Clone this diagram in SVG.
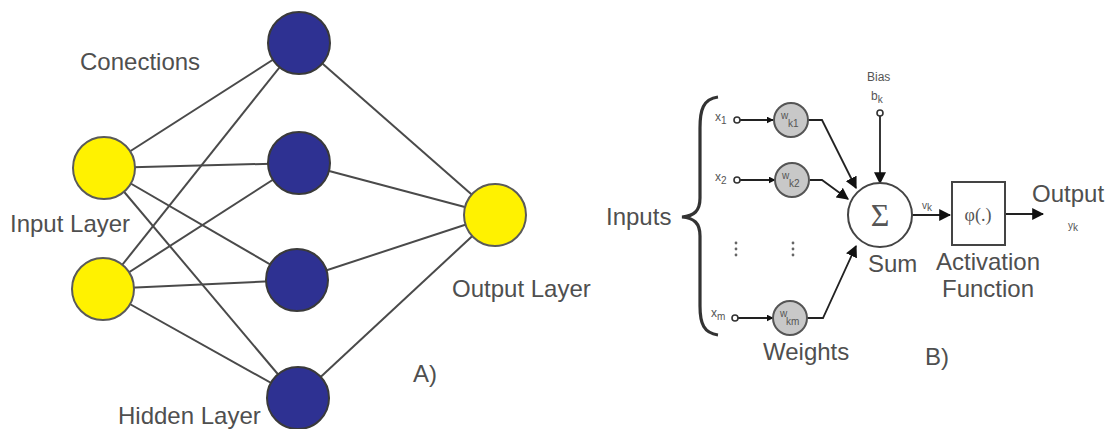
<svg xmlns="http://www.w3.org/2000/svg" width="1107" height="429" viewBox="0 0 1107 429">
<style>
.lbl{font-family:"Liberation Sans",Arial,sans-serif;font-size:24px;fill:#4f4f4f}
.sm{font-family:"Liberation Sans",Arial,sans-serif;font-size:12px;fill:#555}
.sub{font-family:"Liberation Sans",Arial,sans-serif;font-size:10px;fill:#555}
.con{stroke:#4a4a4a;stroke-width:2;fill:none}
.hid{fill:#2e3192;stroke:#3a3a3a;stroke-width:2}
.yel{fill:#fff200;stroke:#5a5a5a;stroke-width:2}
.wt{fill:#c8c8c8;stroke:#555;stroke-width:2}
.pin{fill:#fff;stroke:#333;stroke-width:1.6}
.ar{stroke:#222;stroke-width:1.8;fill:none}
</style>
<defs>
<marker id="ah" viewBox="0 0 10 10" refX="9" refY="5" markerWidth="7" markerHeight="7" markerUnits="userSpaceOnUse" orient="auto">
<path d="M0,0 L10,5 L0,10 z" fill="#111"/>
</marker>
<marker id="ahb" viewBox="0 0 10 10" refX="9" refY="5" markerWidth="12" markerHeight="12" markerUnits="userSpaceOnUse" orient="auto">
<path d="M0,0 L10,5 L0,10 z" fill="#111"/>
</marker>
</defs>
<rect width="1107" height="429" fill="#fff"/>
<g id="connectors">
<line class="con" x1="104" y1="168" x2="299" y2="43"/>
<line class="con" x1="104" y1="168" x2="299" y2="163"/>
<line class="con" x1="104" y1="168" x2="297" y2="280"/>
<line class="con" x1="104" y1="168" x2="298" y2="398"/>
<line class="con" x1="103" y1="289" x2="299" y2="43"/>
<line class="con" x1="103" y1="289" x2="299" y2="163"/>
<line class="con" x1="103" y1="289" x2="297" y2="280"/>
<line class="con" x1="103" y1="289" x2="298" y2="398"/>
<line class="con" x1="299" y1="43" x2="495" y2="215"/>
<line class="con" x1="299" y1="163" x2="495" y2="215"/>
<line class="con" x1="297" y1="280" x2="495" y2="215"/>
<line class="con" x1="298" y1="398" x2="495" y2="215"/>
<line class="ar" x1="740" y1="120" x2="773" y2="120" marker-end="url(#ah)"/>
<line class="ar" x1="740" y1="180" x2="775" y2="180" marker-end="url(#ah)"/>
<line class="ar" x1="738" y1="318" x2="773" y2="318" marker-end="url(#ah)"/>
<polyline class="ar" points="808,120 822,120 856,188" marker-end="url(#ahb)"/>
<polyline class="ar" points="810,180 822,180 848,199" marker-end="url(#ahb)"/>
<polyline class="ar" points="807,318 823,318 856,246" marker-end="url(#ahb)"/>
<line class="ar" x1="880" y1="116" x2="880" y2="183" marker-end="url(#ahb)"/>
<line class="ar" x1="912" y1="215" x2="950" y2="215" marker-end="url(#ahb)"/>
<line class="ar" x1="1005" y1="214" x2="1043" y2="214" marker-end="url(#ahb)"/>
</g>
<g id="input1"><circle class="yel" cx="104" cy="168" r="31"/></g>
<g id="input2"><circle class="yel" cx="103" cy="289" r="31"/></g>
<g id="hidden1"><circle class="hid" cx="299" cy="43" r="31"/></g>
<g id="hidden2"><circle class="hid" cx="299" cy="163" r="31"/></g>
<g id="hidden3"><circle class="hid" cx="297" cy="280" r="31"/></g>
<g id="hidden4"><circle class="hid" cx="298" cy="398" r="31"/></g>
<g id="output"><circle class="yel" cx="495" cy="215" r="31"/></g>
<g id="labelsA">
<text class="lbl" x="80" y="70">Conections</text>
<text class="lbl" x="10" y="232">Input Layer</text>
<text class="lbl" x="118" y="424">Hidden Layer</text>
<text class="lbl" x="452" y="297">Output Layer</text>
<text class="lbl" x="413" y="382">A)</text>
</g>
<g id="inputs">
<text class="lbl" x="606" y="225">Inputs</text>
<path d="M718,97 C703,99 700,110 700,128 L700,198 C700,211 694,216 682,217 C694,218 700,223 700,236 L700,306 C700,324 704,333 718,335" fill="none" stroke="#333" stroke-width="3.2"/>
</g>
<g id="x1"><text class="sm" x="715" y="121">x<tspan class="sub" dy="3">1</tspan></text><circle class="pin" cx="737" cy="120" r="3"/></g>
<g id="x2"><text class="sm" x="715" y="181">x<tspan class="sub" dy="3">2</tspan></text><circle class="pin" cx="737" cy="180" r="3"/></g>
<g id="xm"><text class="sm" x="711" y="317">x<tspan class="sub" dy="3">m</tspan></text><circle class="pin" cx="735" cy="318" r="3"/></g>
<g id="dots" fill="#666">
<circle cx="736" cy="243" r="1.4"/><circle cx="736" cy="249" r="1.4"/><circle cx="736" cy="255" r="1.4"/>
<circle cx="793" cy="243" r="1.4"/><circle cx="793" cy="249" r="1.4"/><circle cx="793" cy="255" r="1.4"/>
</g>
<g id="w1"><circle class="wt" cx="791" cy="120" r="17"/><text class="sub" x="781" y="119">w</text><text class="sub" x="788" y="127">k1</text></g>
<g id="w2"><circle class="wt" cx="792" cy="180" r="17"/><text class="sub" x="782" y="179">w</text><text class="sub" x="789" y="187">k2</text></g>
<g id="wm"><circle class="wt" cx="790" cy="318" r="17"/><text class="sub" x="780" y="317">w</text><text class="sub" x="786" y="325">km</text></g>
<g id="bias">
<text class="sm" x="867" y="81" font-size="11">Bias</text>
<text class="sm" x="871" y="100" font-size="13">b<tspan class="sub" dy="3">k</tspan></text>
<circle class="pin" cx="880" cy="113" r="3"/>
</g>
<g id="sum">
<circle cx="880" cy="215" r="32" fill="#fff" stroke="#444" stroke-width="2"/>
<text x="880" y="226" text-anchor="middle" font-family="Liberation Serif,serif" font-size="32" fill="#555">Σ</text>
<text class="lbl" x="868" y="272">Sum</text>
</g>
<text class="sub" x="922" y="209">v<tspan dy="2">k</tspan></text>
<g id="activation">
<rect x="952" y="182" width="53" height="63" fill="#fff" stroke="#444" stroke-width="2"/>
<text x="978" y="221" text-anchor="middle" font-family="Liberation Serif,serif" font-size="18" fill="#555">φ(.)</text>
<text class="lbl" x="988" y="270" text-anchor="middle">Activation</text>
<text class="lbl" x="988" y="297" text-anchor="middle">Function</text>
</g>
<g id="outputB">
<text class="lbl" x="1032" y="202">Output</text>
<text class="sub" x="1068" y="229">y<tspan dy="2">k</tspan></text>
</g>
<g id="labelsB">
<text class="lbl" x="763" y="360">Weights</text>
<text class="lbl" x="925" y="365">B)</text>
</g>
</svg>
